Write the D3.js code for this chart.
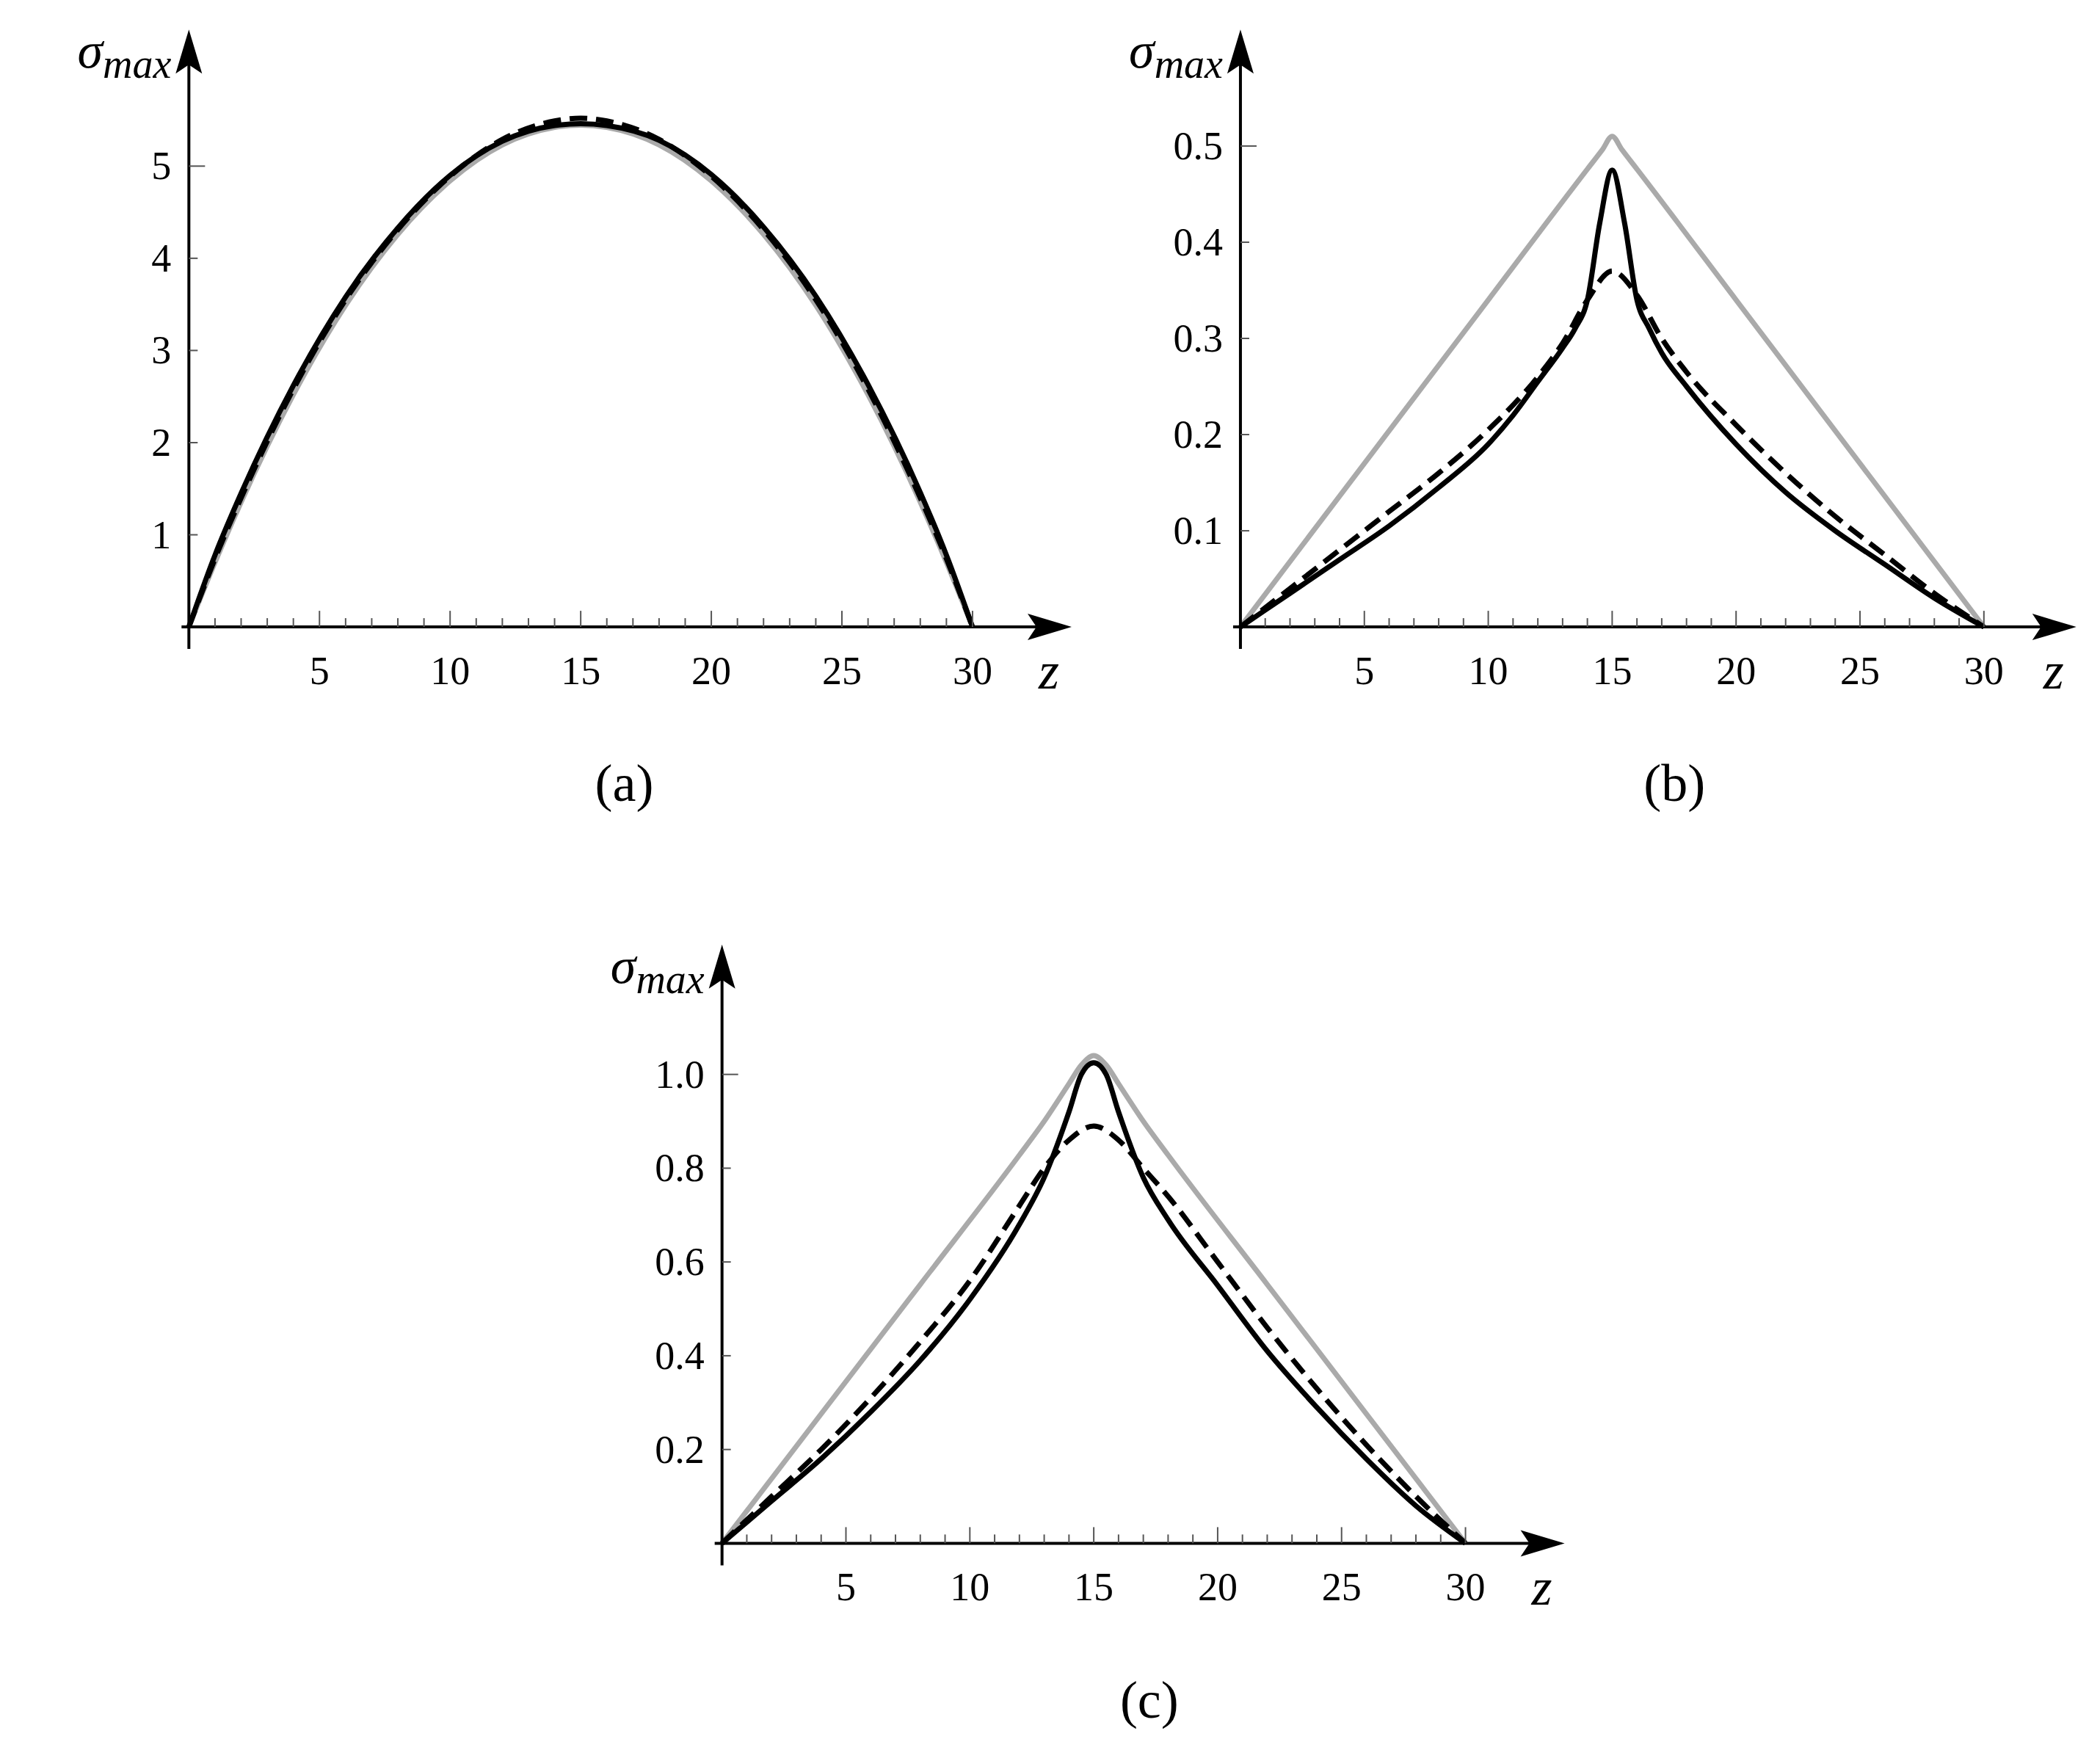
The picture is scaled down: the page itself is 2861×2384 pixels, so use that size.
<!DOCTYPE html>
<html><head><meta charset="utf-8">
<script src="https://cdn.jsdelivr.net/npm/d3@7"></script>
<style>body{margin:0;background:#fff}text{font-family:"Liberation Serif","DejaVu Serif",serif}</style>
</head><body><div id="chart"></div>
<script>
// --- data ---
const zA = [0, 1, 2, 4, 6, 8, 10, 12, 14, 15, 16, 18, 20, 22, 24, 26, 28, 29, 30];
const aGray = [0, 0.70, 1.355, 2.52, 3.49, 4.26, 4.84, 5.23, 5.42, 5.445, 5.42, 5.23, 4.84, 4.26, 3.49, 2.52, 1.355, 0.70, 0];
const aSolid = [0, 0.78, 1.45, 2.62, 3.58, 4.33, 4.90, 5.27, 5.44, 5.46, 5.44, 5.28, 4.91, 4.34, 3.59, 2.63, 1.46, 0.78, 0];
const aDash = [0, 0.74, 1.40, 2.58, 3.55, 4.31, 4.89, 5.29, 5.49, 5.52, 5.49, 5.29, 4.89, 4.31, 3.55, 2.58, 1.40, 0.74, 0];

const zB = [0, 5, 10, 14, 14.6, 15, 15.4, 16, 20, 25, 30];
const bGray = [0, 0.17, 0.34, 0.476, 0.496, 0.51, 0.496, 0.476, 0.34, 0.17, 0];
const zBs = [0, 2, 4, 6, 8, 10, 11, 12, 13, 13.5, 14, 14.5, 15, 15.5, 16, 16.5, 17, 18, 20, 22, 24, 26, 28, 30];
const bSolid = [0, 0.035, 0.07, 0.105, 0.145, 0.19, 0.22, 0.255, 0.29, 0.31, 0.34, 0.42, 0.475, 0.42, 0.34, 0.31, 0.285, 0.25, 0.19, 0.14, 0.10, 0.065, 0.03, 0];
const zBd = [0, 2, 4, 6, 8, 10, 12, 13, 14, 15, 16, 17, 18, 20, 22, 24, 26, 28, 30];
const bDash = [0, 0.04, 0.08, 0.12, 0.16, 0.205, 0.26, 0.295, 0.34, 0.37, 0.345, 0.30, 0.265, 0.21, 0.16, 0.115, 0.075, 0.035, 0];

const zCg = [0, 4, 8, 12, 13, 14, 14.5, 15, 15.5, 16, 17, 18, 22, 26, 30];
const cGray = [0, 0.276, 0.552, 0.828, 0.90, 0.98, 1.02, 1.04, 1.02, 0.98, 0.90, 0.828, 0.552, 0.276, 0];
const zCs = [0, 2, 4, 6, 8, 10, 12, 13, 14, 14.5, 15, 15.5, 16, 17, 18, 20, 22, 24, 26, 28, 30];
const cSolid = [0, 0.09, 0.18, 0.28, 0.39, 0.52, 0.68, 0.78, 0.92, 1.0, 1.025, 1.0, 0.92, 0.78, 0.69, 0.55, 0.41, 0.29, 0.18, 0.08, 0];
const zCd = [0, 2, 4, 6, 8, 10, 12, 13, 14, 15, 16, 17, 18, 20, 22, 24, 26, 28, 30];
const cDash = [0, 0.10, 0.20, 0.31, 0.43, 0.56, 0.72, 0.80, 0.86, 0.89, 0.86, 0.80, 0.74, 0.60, 0.46, 0.33, 0.21, 0.10, 0];

const xTicks = [5, 10, 15, 20, 25, 30];
const yTicksA = [1, 2, 3, 4, 5];
const yTicksB = [0.1, 0.2, 0.3, 0.4, 0.5];
const yTicksC = [0.2, 0.4, 0.6, 0.8, 1.0];

const S = 1.825;
const svg = d3.select("#chart").append("svg").attr("width", 2861).attr("height", 2384);

// draw one panel; coordinates given in the 1568-wide reference view, scaled by S
function panel(o) {
  const x = d3.scaleLinear().domain([0, 30]).range([o.x0 * S, o.x30 * S]);
  const y = d3.scaleLinear().domain([0, o.yv]).range([o.y0 * S, o.yp * S]);
  const g = svg.append("g");

  // curves
  const line = d3.line().x(d => x(d[0])).y(d => y(d[1])).curve(d3.curveMonotoneX);
  o.series.forEach(s => {
    g.append("path").datum(s.z.map((z, i) => [z, s.v[i]]))
      .attr("d", line).attr("fill", "none")
      .attr("stroke", s.color).attr("stroke-width", 7)
      .attr("stroke-dasharray", s.dash || null);
  });

  // axes
  const ax = o.x0 * S, ay = o.y0 * S;
  g.append("line").attr("x1", ax - 10).attr("x2", o.xEnd * S - 20).attr("y1", ay).attr("y2", ay)
    .attr("stroke", "#000").attr("stroke-width", 4);
  g.append("line").attr("x1", ax).attr("x2", ax).attr("y1", ay + 30).attr("y2", o.yTop * S + 20)
    .attr("stroke", "#000").attr("stroke-width", 4);
  g.append("path").attr("d", `M${o.xEnd * S},${ay} l-60,-18 l12,18 l-12,18 z`);
  g.append("path").attr("d", `M${ax},${o.yTop * S} l-18,60 l18,-12 l18,12 z`);

  // x ticks
  d3.range(1, 31).forEach(t => {
    const major = t % 5 === 0;
    g.append("line").attr("x1", x(t)).attr("x2", x(t)).attr("y1", ay).attr("y2", ay - (major ? 22 : 12))
      .attr("stroke", "#555").attr("stroke-width", 2);
  });
  xTicks.forEach(t => g.append("text").attr("x", x(t)).attr("y", ay + 78)
    .attr("text-anchor", "middle").attr("font-size", 54).text(t));

  // y ticks
  const step = o.yv / o.minor;
  for (let v = step; v <= o.yMax + 1e-9; v += step) {
    const k = Math.round(v / step);
    const major = k % o.minor === 0;
    g.append("line").attr("x1", ax).attr("x2", ax + (major ? 22 : 12)).attr("y1", y(v)).attr("y2", y(v))
      .attr("stroke", "#555").attr("stroke-width", 2);
  }
  o.yTicks.forEach(t => g.append("text").attr("x", ax - 24).attr("y", y(t) + 18)
    .attr("text-anchor", "end").attr("font-size", 54).text(o.fmt(t)));

  // labels
  const lab = g.append("text").attr("x", ax - 24).attr("y", o.yTop * S + 52).attr("text-anchor", "end")
    .attr("font-size", 70).attr("font-style", "italic");
  lab.append("tspan").text("σ");
  lab.append("tspan").attr("font-size", 56).attr("dy", 14).text("max");
  g.append("text").attr("x", (o.xEnd - 17) * S).attr("y", ay + 84).attr("text-anchor", "middle")
    .attr("font-size", 72).attr("font-style", "italic").text("z");
  g.append("text").attr("x", o.capX * S).attr("y", o.capY * S).attr("text-anchor", "middle")
    .attr("font-size", 72).text(o.cap);
}

const gray = "#aaaaaa", dash = "24,12";
panel({ x0: 141, x30: 726, y0: 468, yp: 124, yv: 5, yMax: 5.8, minor: 5, yTop: 22, xEnd: 800,
  yTicks: yTicksA, fmt: d => d, cap: "(a)", capX: 466, capY: 598,
  series: [{ z: zA, v: aGray, color: gray }, { z: zA, v: aSolid, color: "#000" }, { z: zA, v: aDash, color: "#000", dash }] });
panel({ x0: 926, x30: 1481, y0: 468, yp: 109, yv: 0.5, yMax: 0.58, minor: 5, yTop: 22, xEnd: 1550,
  yTicks: yTicksB, fmt: d3.format(".1f"), cap: "(b)", capX: 1250, capY: 598,
  series: [{ z: zB, v: bGray, color: gray }, { z: zBs, v: bSolid, color: "#000" }, { z: zBd, v: bDash, color: "#000", dash }] });
panel({ x0: 539, x30: 1094, y0: 1152, yp: 802, yv: 1.0, yMax: 1.16, minor: 5, yTop: 705, xEnd: 1168,
  yTicks: yTicksC, fmt: d3.format(".1f"), cap: "(c)", capX: 858, capY: 1282,
  series: [{ z: zCg, v: cGray, color: gray }, { z: zCs, v: cSolid, color: "#000" }, { z: zCd, v: cDash, color: "#000", dash }] });
</script>
</body></html>
